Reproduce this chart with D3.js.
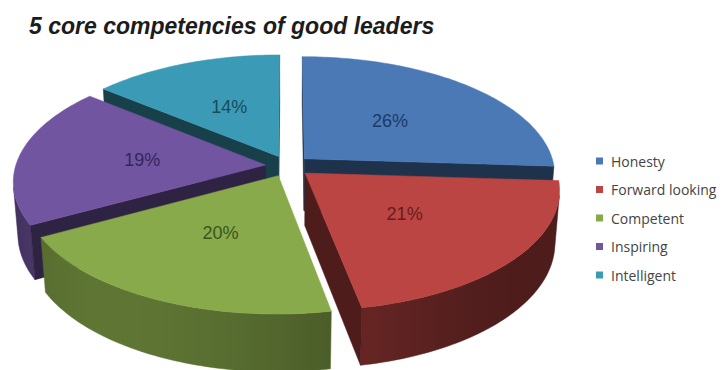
<!DOCTYPE html>
<html>
<head>
<meta charset="utf-8">
<script src="https://cdn.jsdelivr.net/npm/d3@7"></script>
<style>
  html, body { margin: 0; padding: 0; background: #ffffff; }
  svg { display: block; }
</style>
</head>
<body>
<svg id="chart" width="727" height="370"></svg>
<script>
// Chart data
const title = "5 core competencies of good leaders";
const categories = ["Honesty", "Forward looking", "Competent", "Inspiring", "Intelligent"];
const shares = [26, 21, 20, 19, 14];
const sliceColors = ["#4a79b6", "#bb4542", "#89aa4b", "#7155a0", "#3b9bb6"];
const labelColors = ["#1e3a66", "#6a1b1b", "#3a5520", "#35255a", "#1a4b5b"];

const svg = d3.select("#chart");
const defs = svg.append("defs");

// ---- 3D view of the pie (unit radius, perspective camera) ----
const view = {
  cx: 288, cy: 166,      // screen position of the pie centre
  scale: 250,            // pixels per radius at the centre depth
  tilt: 28 * Math.PI / 180,
  dist: 6.7,             // camera distance in radii
  depth: 0.24,           // slab thickness in radii
  explode: 0.09,         // radial offset of each slice
  labelRadius: 0.5
};
const ca = Math.cos(view.tilt), sa = Math.sin(view.tilt);
const cam = [0, -view.dist * ca, view.dist * sa];

function project(p) {
  const [u, v, z] = p;
  const d = view.dist + v * ca - z * sa;
  const k = view.scale * view.dist / d;
  return [view.cx + u * k, view.cy - (v * sa + z * ca) * k];
}

function visible(point, normal) {
  return (cam[0] - point[0]) * normal[0] +
         (cam[1] - point[1]) * normal[1] +
         (cam[2] - point[2]) * normal[2] > 0;
}

// light from the front-left for the side walls
const light = (() => { const a = 215 * Math.PI / 180; return [Math.sin(a), Math.cos(a), 0]; })();
function shade(color, normal, base) {
  const dot = Math.max(0, normal[0] * light[0] + normal[1] * light[1] + normal[2] * light[2]);
  const f = base + 0.28 * dot * dot;
  const c = d3.rgb(color);
  return d3.rgb(c.r * f, c.g * f, c.b * f).formatHex();
}

const pie = d3.pie().sort(null).startAngle(0).endAngle(2 * Math.PI)(shares);
const line = d3.line().curve(d3.curveLinearClosed);

const slices = pie.map((a, i) => {
  const mid = (a.startAngle + a.endAngle) / 2;
  const ox = view.explode * Math.sin(mid), oy = view.explode * Math.cos(mid);
  const rim = (t, z) => [ox + Math.sin(t), oy + Math.cos(t), z];
  const apex = z => [ox, oy, z];
  const top = 0, bot = -view.depth;
  const steps = Math.max(8, Math.ceil((a.endAngle - a.startAngle) / 0.02));
  const ts = d3.range(steps + 1).map(j => a.startAngle + (a.endAngle - a.startAngle) * j / steps);

  const faces = [];
  // outer curved wall: contiguous runs of visible strips, each filled with a gradient
  let run = [];
  const runs = [];
  for (let j = 0; j < steps; j++) {
    const tm = (ts[j] + ts[j + 1]) / 2;
    const n = [Math.sin(tm), Math.cos(tm), 0];
    if (visible(rim(tm, top), n)) run.push(j);
    else if (run.length) { runs.push(run); run = []; }
  }
  if (run.length) runs.push(run);
  runs.forEach((r, ri) => {
    const j0 = r[0], j1 = r[r.length - 1] + 1;
    const topPts = d3.range(j0, j1 + 1).map(j => rim(ts[j], top));
    const botPts = d3.range(j1, j0 - 1, -1).map(j => rim(ts[j], bot));
    const xs = topPts.map(p => project(p)[0]);
    const xmin = d3.min(xs), xmax = d3.max(xs);
    const id = `wall-${i}-${ri}`;
    const grad = defs.append("linearGradient").attr("id", id)
      .attr("gradientUnits", "userSpaceOnUse")
      .attr("x1", xmin).attr("x2", xmax).attr("y1", 0).attr("y2", 0);
    const stops = r.map(j => {
      const tm = (ts[j] + ts[j + 1]) / 2;
      const x = project(rim(tm, top))[0];
      return { o: (x - xmin) / Math.max(1e-6, xmax - xmin), c: shade(sliceColors[i], [Math.sin(tm), Math.cos(tm), 0], 0.41) };
    }).sort((p, q) => p.o - q.o);
    grad.selectAll("stop").data(stops).join("stop")
      .attr("offset", d => d.o).attr("stop-color", d => d.c);
    faces.push({ pts: [...topPts, ...botPts], fill: `url(#${id})`, stroke: stops[Math.floor(stops.length / 2)].c });
  });
  // radial walls
  const s0 = a.startAngle, s1 = a.endAngle;
  const nStart = [-Math.cos(s0), Math.sin(s0), 0];
  const nEnd = [Math.cos(s1), -Math.sin(s1), 0];
  const startPts = [apex(top), rim(s0, top), rim(s0, bot), apex(bot)];
  const endPts = [apex(top), rim(s1, top), rim(s1, bot), apex(bot)];
  const cStart = [ox + 0.5 * Math.sin(s0), oy + 0.5 * Math.cos(s0), -view.depth / 2];
  const cEnd = [ox + 0.5 * Math.sin(s1), oy + 0.5 * Math.cos(s1), -view.depth / 2];
  const sideFill = shade(sliceColors[i], [0, 0, 0], 0.41);
  if (visible(cStart, nStart)) faces.push({ pts: startPts, fill: sideFill, stroke: sideFill });
  if (visible(cEnd, nEnd)) faces.push({ pts: endPts, fill: sideFill, stroke: sideFill });
  // top face
  faces.push({ pts: [apex(top), ...ts.map(t => rim(t, top))], fill: sliceColors[i], stroke: sliceColors[i] });

  const centroid = [ox + 0.5 * Math.sin(mid), oy + 0.5 * Math.cos(mid), 0];
  const dcent = view.dist + centroid[1] * ca;
  const lr = view.labelRadius;
  const labelPos = project([ox + lr * Math.sin(mid), oy + lr * Math.cos(mid), 0]);
  return { i, faces, dcent, labelPos, value: a.data };
});

// paint far slices first
const order = slices.slice().sort((p, q) => q.dcent - p.dcent);
const gPie = svg.append("g");
order.forEach(s => {
  const g = gPie.append("g");
  s.faces.forEach(f => {
    g.append("path")
      .attr("d", line(f.pts.map(project)))
      .attr("fill", f.fill)
      .attr("stroke", f.stroke)
      .attr("stroke-width", 0.5)
      .attr("stroke-linejoin", "round");
  });
});

// percentage labels
svg.append("g").selectAll("text").data(slices).join("text")
  .attr("x", d => d.labelPos[0])
  .attr("y", d => d.labelPos[1])
  .attr("text-anchor", "middle")
  .attr("dominant-baseline", "central")
  .attr("font-family", "'Liberation Sans', Arial, sans-serif")
  .attr("font-size", 18)
  .attr("fill", d => labelColors[d.i])
  .text(d => d.value + "%");

// title
svg.append("text")
  .attr("x", 29).attr("y", 34)
  .attr("font-family", "'Liberation Sans', Arial, sans-serif")
  .attr("font-size", 23)
  .attr("font-weight", "bold")
  .attr("font-style", "italic")
  .attr("fill", "#1c1c1c")
  .text(title);

// legend
const legendY = d3.scalePoint().domain(categories).range([161, 275]);
const legend = svg.append("g").selectAll("g").data(categories).join("g")
  .attr("transform", d => `translate(596,${legendY(d)})`);
legend.append("rect")
  .attr("x", 0).attr("y", -3.5).attr("width", 7).attr("height", 7)
  .attr("fill", (d, i) => sliceColors[i]);
legend.append("text")
  .attr("x", 15).attr("y", 0)
  .attr("dominant-baseline", "central")
  .attr("font-family", "'Open Sans', sans-serif")
  .attr("font-size", 14)
  .attr("fill", "#444")
  .text(d => d);
</script>
</body>
</html>
